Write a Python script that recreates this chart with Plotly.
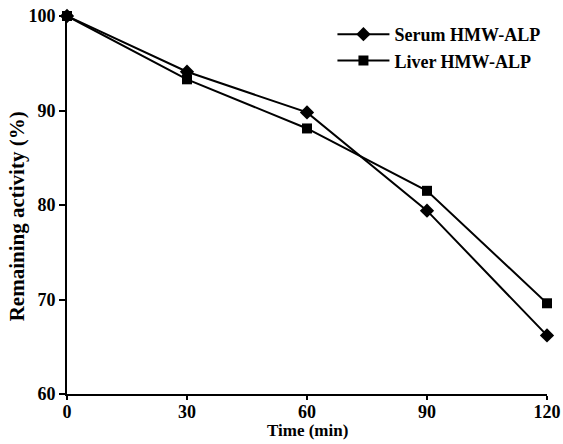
import plotly.graph_objects as go

time_min = [0, 30, 60, 90, 120]
serum = [100, 94.1, 89.8, 79.4, 66.2]
liver = [100, 93.3, 88.1, 81.5, 69.6]
x_ticks = [0, 30, 60, 90, 120]
y_ticks = [60, 70, 80, 90, 100]

font = dict(family="Liberation Serif", size=18, color="black")

fig = go.Figure()
fig.add_trace(go.Scatter(x=time_min, y=serum, mode="lines+markers", name="<b>Serum HMW-ALP</b>",
                         line=dict(color="black", width=2),
                         marker=dict(symbol="diamond", size=11, color="black"), cliponaxis=False))
fig.add_trace(go.Scatter(x=time_min, y=liver, mode="lines+markers", name="<b>Liver HMW-ALP</b>",
                         line=dict(color="black", width=2),
                         marker=dict(symbol="square", size=10, color="black"), cliponaxis=False))

fig.update_layout(
    width=563, height=444,
    margin=dict(l=67, r=16, t=16, b=50, autoexpand=False),
    paper_bgcolor="white", plot_bgcolor="white",
    font=font,
    legend=dict(x=0.553, y=1.0, xanchor="left", yanchor="top", bgcolor="rgba(0,0,0,0)",
                font=dict(family="Liberation Serif", size=18, color="black"),
                tracegroupgap=0, itemwidth=52),
    showlegend=True,
    annotations=[
        dict(text="<b>Time (min)</b>", xref="paper", yref="paper", x=0.5, y=-36/378,
             xanchor="center", yanchor="middle", showarrow=False, font=dict(size=17)),
        dict(text="<b>Remaining activity (%)</b>", xref="paper", yref="paper", x=-50/480, y=0.47,
             xanchor="center", yanchor="middle", textangle=-90, showarrow=False, font=dict(size=21)),
    ],
)
fig.update_xaxes(range=[0, 120], tickvals=x_ticks, ticktext=[f"<b>{v}</b>" for v in x_ticks],
                 automargin=False, ticklabeloverflow="allow", ticklabelstandoff=-4,
                 showgrid=False, zeroline=False, showline=True, linecolor="black", linewidth=2,
                 ticks="outside", ticklen=4, tickwidth=2, tickcolor="black")
fig.update_yaxes(range=[60, 100], tickvals=y_ticks, ticktext=[f"<b>{v}</b>" for v in y_ticks],
                 automargin=False, ticklabeloverflow="allow",
                 showgrid=False, zeroline=False, showline=True, linecolor="black", linewidth=2,
                 ticks="outside", ticklen=6, tickwidth=2, tickcolor="black")

fig.write_html("out.html", config={"displayModeBar": False},
               post_script="document.body.style.margin='0';document.body.style.overflow='hidden';")
